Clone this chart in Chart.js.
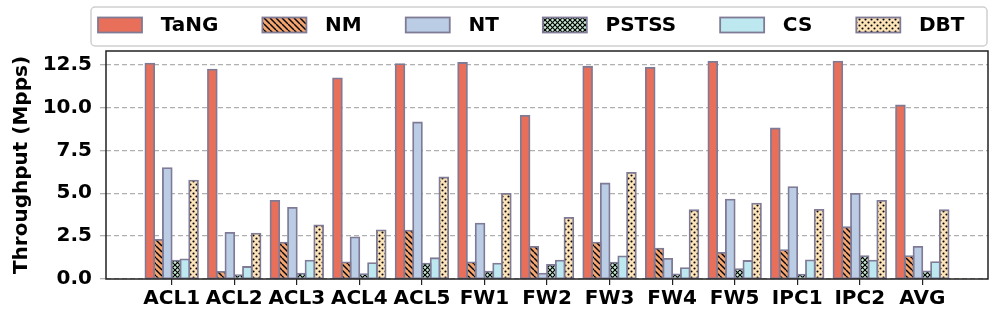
<!DOCTYPE html>
<html>
<head>
<meta charset="utf-8">
<script src="https://cdn.jsdelivr.net/npm/chart.js@4.4.1/dist/chart.umd.min.js"></script>
<style>
  html, body { margin: 0; padding: 0; background: #fff; }
  #c { display: block; }
</style>
</head>
<body>
<canvas id="c" width="997" height="315"></canvas>
<script>
// values (Mpps)
const categories = ['ACL1', 'ACL2', 'ACL3', 'ACL4', 'ACL5', 'FW1', 'FW2', 'FW3', 'FW4', 'FW5', 'IPC1', 'IPC2', 'AVG'];
const tang  = [12.56, 12.21, 4.56, 11.70, 12.54, 12.60, 9.52, 12.38, 12.32, 12.66, 8.78, 12.68, 10.12];
const nm    = [2.28, 0.41, 2.12, 0.97, 2.82, 0.97, 1.87, 2.12, 1.77, 1.52, 1.68, 3.02, 1.34];
const nt    = [6.47, 2.69, 4.15, 2.43, 9.13, 3.23, 0.31, 5.57, 1.17, 4.63, 5.36, 4.96, 1.87];
const pstss = [1.07, 0.23, 0.31, 0.29, 0.90, 0.43, 0.82, 0.95, 0.27, 0.58, 0.25, 1.34, 0.45];
const cs    = [1.15, 0.70, 1.07, 0.93, 1.21, 0.90, 1.07, 1.32, 0.64, 1.05, 1.09, 1.07, 0.99];
const dbt   = [5.74, 2.65, 3.13, 2.84, 5.92, 4.96, 3.56, 6.19, 4.01, 4.40, 4.03, 4.56, 4.01];
const yTicks = [0, 2.5, 5, 7.5, 10, 12.5];

const FONT = '"DejaVu Sans", "Liberation Sans", sans-serif';
const EDGE = '#7f7b96';

// hatch patterns like matplotlib's '\\', 'xxx' and '..'
function makePattern(bg, kind) {
  const s = kind === 'cross' ? 5 : 6;
  const c = document.createElement('canvas');
  c.width = s; c.height = s;
  const g = c.getContext('2d');
  g.fillStyle = bg;
  g.fillRect(0, 0, s, s);
  g.strokeStyle = '#000';
  g.fillStyle = '#000';
  if (kind === 'back') {
    g.lineWidth = 1.4;
    for (const k of [-s, 0, s]) {
      g.beginPath(); g.moveTo(k, 0); g.lineTo(k + s, s); g.stroke();
    }
  } else if (kind === 'cross') {
    g.lineWidth = 1.2;
    for (const k of [-s, 0, s]) {
      g.beginPath(); g.moveTo(k, 0); g.lineTo(k + s, s); g.stroke();
      g.beginPath(); g.moveTo(k + s, 0); g.lineTo(k, s); g.stroke();
    }
  } else if (kind === 'dots') {
    for (const [px, py] of [[1.5, 1.5], [4.5, 4.5]]) {
      g.beginPath(); g.arc(px, py, 1.05, 0, Math.PI * 2); g.fill();
    }
  }
  return g.createPattern(c, 'repeat');
}

const series = [
  { label: 'TaNG',  data: tang,  color: '#e8705b' },
  { label: 'NM',    data: nm,    color: makePattern('#f4a46e', 'back') },
  { label: 'NT',    data: nt,    color: '#bbcde4' },
  { label: 'PSTSS', data: pstss, color: makePattern('#c6ebd2', 'cross') },
  { label: 'CS',    data: cs,    color: '#bde8f0' },
  { label: 'DBT',   data: dbt,   color: makePattern('#fce3b8', 'dots') }
];

// legend in a rounded box across the top
const legendBox = {
  id: 'legendBox',
  afterDraw(chart) {
    const ctx = chart.ctx;
    ctx.save();
    ctx.beginPath();
    ctx.roundRect(91, 7, 896, 39, 4);
    ctx.fillStyle = '#fff';
    ctx.fill();
    ctx.lineWidth = 1.5;
    ctx.strokeStyle = '#cfcfcf';
    ctx.stroke();
    ctx.font = 'bold 20px ' + FONT;
    ctx.textBaseline = 'middle';
    let x = 98;
    chart.data.datasets.forEach(ds => {
      ctx.fillStyle = ds.backgroundColor;
      ctx.fillRect(x, 17.5, 44, 15);
      ctx.lineWidth = 1.8;
      ctx.strokeStyle = EDGE;
      ctx.strokeRect(x, 17.5, 44, 15);
      ctx.fillStyle = '#000';
      ctx.fillText(ds.label, x + 62.7, 25.5);
      x += 62.7 + ctx.measureText(ds.label).width + 44;
    });
    ctx.restore();
  }
};

// axes frame (all four spines) on top of the bars
const frame = {
  id: 'frame',
  afterDatasetsDraw(chart) {
    const { ctx, chartArea: a } = chart;
    ctx.save();
    ctx.lineWidth = 1.5;
    ctx.strokeStyle = '#222';
    ctx.strokeRect(a.left, a.top, a.right - a.left, a.bottom - a.top);
    ctx.restore();
  }
};

new Chart(document.getElementById('c'), {
  type: 'bar',
  data: {
    datasets: series.map(s => ({
      label: s.label,
      data: s.data.map((v, i) => ({ x: i, y: v })),
      backgroundColor: s.color,
      borderColor: EDGE,
      borderWidth: 1.8,
      borderSkipped: false,
      inflateAmount: 0.9
    }))
  },
  options: {
    responsive: false,
    animation: false,
    devicePixelRatio: 1,
    categoryPercentage: 0.84,
    barPercentage: 1,
    layout: { padding: { top: 51, right: 9, left: 0, bottom: 0 } },
    plugins: { legend: { display: false }, tooltip: { enabled: false } },
    scales: {
      x: {
        type: 'linear',
        offset: false,
        min: -1.05,
        max: 13.05,
        afterBuildTicks: scale => { scale.ticks = categories.map((_, i) => ({ value: i })); },
        afterFit: scale => { scale.height = 36; },
        border: { display: false },
        grid: { offset: false, drawOnChartArea: false, drawTicks: true, tickLength: 6, color: '#222', lineWidth: 1.2 },
        ticks: {
          autoSkip: false,
          maxRotation: 0,
          padding: 2,
          color: '#000',
          font: { family: FONT, size: 20, weight: 'bold' },
          callback: v => categories[v]
        }
      },
      y: {
        min: 0,
        max: 13.3,
        afterBuildTicks: scale => { scale.ticks = yTicks.map(v => ({ value: v })); },
        afterFit: scale => { scale.width = 106; },
        border: { display: false, dash: [5, 3] },
        grid: { color: '#b0b0b0', lineWidth: 1.3, tickLength: 6 },
        ticks: {
          padding: 8,
          color: '#000',
          font: { family: FONT, size: 20, weight: 'bold' },
          callback: v => v.toFixed(1)
        },
        title: {
          display: true,
          text: 'Throughput (Mpps)',
          color: '#000',
          padding: { top: 10, bottom: 0 },
          font: { family: FONT, size: 20, weight: 'bold' }
        }
      }
    }
  },
  plugins: [legendBox, frame]
});
</script>
</body>
</html>
